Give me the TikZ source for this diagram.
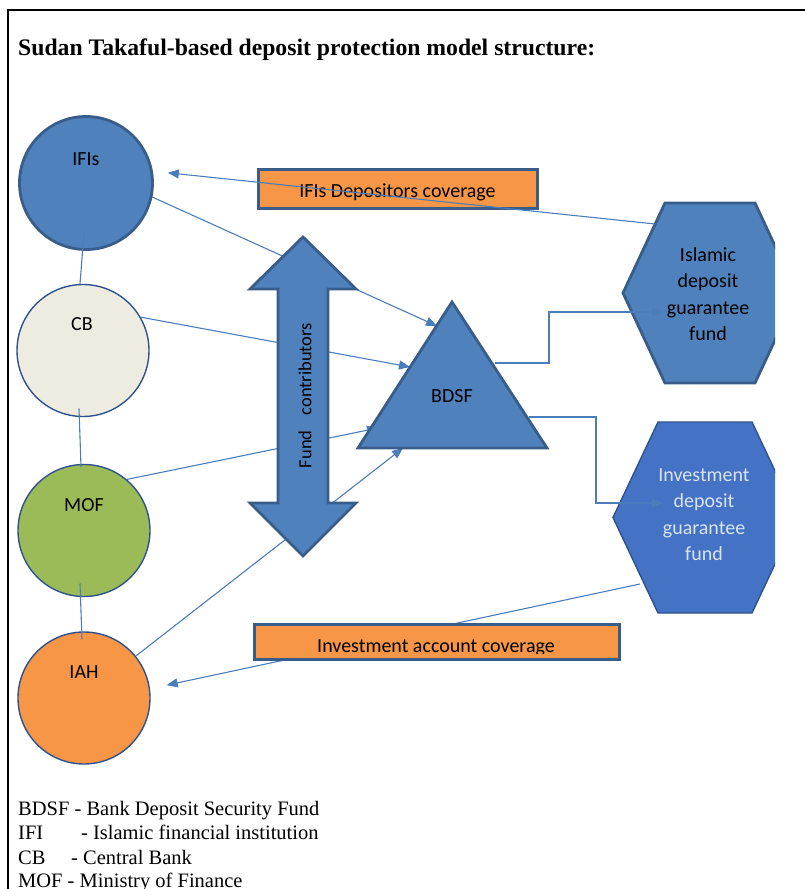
\documentclass[tikz,border=0pt]{standalone}
\usepackage{fontspec}
\setmainfont{Liberation Serif}
\newfontfamily\calfont{Carlito}
\usetikzlibrary{arrows.meta,calc}
\definecolor{accfill}{HTML}{4F81BD}
\definecolor{accdark}{HTML}{385D8A}
\definecolor{connc}{HTML}{4A7EBB}
\definecolor{hexbfill}{HTML}{4472C4}
\definecolor{thinbd}{HTML}{2F528F}
\definecolor{cbfill}{HTML}{EEECE1}
\definecolor{mofgreen}{HTML}{9BBB59}
\definecolor{orangef}{HTML}{F79646}
\definecolor{hexbtext}{HTML}{DAE3F3}
\begin{document}
\begin{tikzpicture}[x=1pt,y=-1pt,
  lbl/.style={font=\calfont\fontsize{20}{24}\selectfont, inner sep=0pt},
  legend/.style={font=\fontsize{20.5}{24}\selectfont, inner sep=0pt, anchor=base west},
  conn/.style={draw=connc, line width=1.1pt},
  arr/.style={conn, -{Triangle[length=11pt,width=9pt]}},
  thickshape/.style={fill=accfill, draw=accdark, line width=2.8pt, line join=miter},
  circthick/.style={circle, inner sep=0pt, minimum size=133pt, fill=accfill, draw=accdark, line width=2.8pt},
  circthin/.style={circle, inner sep=0pt, minimum size=132pt, draw=thinbd, line width=1.4pt},
  cover/.style={rectangle, inner sep=0pt, fill=orangef, draw=accdark, line width=2.8pt}
]
\useasboundingbox (0,0) rectangle (805,889);
% frame
\draw[line width=1.2pt] (8,900) -- (8,10) -- (815,10);
% title
\node[font=\bfseries\fontsize{23.7}{28}\selectfont, inner sep=0pt, anchor=base west] (title) at (18,55) {Sudan Takaful-based deposit protection model structure:};
% legend
\node[legend] (lg1) at (18,815) {BDSF - Bank Deposit Security Fund};
\node[legend] (lg2) at (18,839.5) {\makebox[63pt][l]{IFI}- Islamic financial institution};
\node[legend] (lg3) at (18,864) {\makebox[53pt][l]{CB}- Central Bank};
\node[legend] (lg4) at (18,887.5) {MOF - Ministry of Finance};

% circles
\node[circthick] (ifi) at (86,183) {};
\node[circthin, fill=cbfill] (cb) at (83,350.5) {};
\node[circthin, fill=mofgreen] (mof) at (84,530.5) {};
\node[circthin, fill=orangef] (iah) at (84,698) {};
\node[lbl, anchor=base] (ifit) at (86,165) {IFIs};
\node[lbl, anchor=base] (cbt) at (82,330.5) {CB};
\node[lbl, anchor=base] (moft) at (84,511.5) {MOF};
\node[lbl, anchor=base] (iaht) at (84,678) {IAH};

% links between circles
\draw[conn] ([xshift=-2pt,yshift=-50pt]ifi.center) -- ([xshift=-3pt]cb.north);
\draw[conn] ([xshift=-4pt,yshift=-58pt]cb.center) -- ([xshift=-3pt,yshift=-3pt]mof.north);
\draw[conn] ([xshift=-4pt,yshift=-53pt]mof.center) -- ([xshift=-2pt,yshift=-8pt]iah.north);

% coverage box 1
\node[cover, minimum width=279pt, minimum height=39pt] (cov1) at (398,189) {};
\node[lbl, anchor=base] (cov1t) at (397.5,197) {IFIs Depositors coverage};

% named points
\coordinate (tA) at (437,326);
\coordinate (tB) at (410,367);
\coordinate (tC) at (378,428);
\coordinate (tD) at (403,448);
\coordinate (tR1) at (495,363);
\coordinate (tR2) at (529,417);
\coordinate (hAin) at (663,312);
\coordinate (hBin) at (663,503);
\coordinate (hAout) at (655,224);
\coordinate (hBout) at (640,584);

% hexagon 2 -> IAH (under box 2)
\draw[arr, shorten >=17pt] (hBout) -- (iah.8);

% coverage box 2
\node[cover, minimum width=365pt, minimum height=35pt] (cov2) at (437,642) {};
\begin{scope}
\clip (250,600) rectangle (625,653);
\node[lbl, anchor=base] (cov2t) at (436,652) {Investment account coverage};
\end{scope}

% contributions to BDSF
\draw[arr] (ifi.-12) -- (tA);
\draw[arr] (cb.30) -- (tB);
\draw[arr] (mof.50) -- (tC);
\draw[arr] (iah.39) -- (tD);

% double arrow
\draw[thickshape] (303,237) -- (356,289) -- (328,289) -- (328,503) -- (356,503)
  -- (303,556) -- (250,503) -- (278,503) -- (278,289) -- (250,289) -- cycle;
\node[font=\calfont\fontsize{18.5}{22}\selectfont, inner sep=0pt, rotate=90] (fundt) at (305,395.5) {Fund\hspace{15pt}contributors};

% triangle BDSF
\draw[thickshape] (452,302) -- (547,448) -- (358,448) -- cycle;
\node[lbl, anchor=base] (bdsf) at (452,402.5) {BDSF};

% hexagons
\begin{scope}
\clip (600,150) rectangle (775,700);
\draw[thickshape] (665,203) -- (755,203) -- (797,293) -- (755,383) -- (665,383) -- (623,293) -- cycle;
\draw[fill=hexbfill, draw=thinbd, line width=1.4pt, line join=miter] (658,422) -- (752,422) -- (797,517.5) -- (752,613) -- (658,613) -- (613,517.5) -- cycle;
\end{scope}
\node[lbl, anchor=base] (hexA) at (708,261) {\fontsize{20}{26.5}\selectfont\begin{tabular}[t]{@{}c@{}}Islamic\\deposit\\guarantee\\fund\end{tabular}};
\node[lbl, anchor=base, text=hexbtext] (hexB) at (704,481) {\fontsize{20}{26.5}\selectfont\begin{tabular}[t]{@{}c@{}}Investment\\deposit\\guarantee\\fund\end{tabular}};

% BDSF -> funds
\draw[arr] (tR1) -- ++(54,0) |- (hAin);
\draw[arr] (tR2) -- ++(67,0) |- (hBin);

% Islamic fund -> IFIs
\draw[arr, shorten >=15pt] (hAout) -- (ifi.10);
\end{tikzpicture}
\end{document}
